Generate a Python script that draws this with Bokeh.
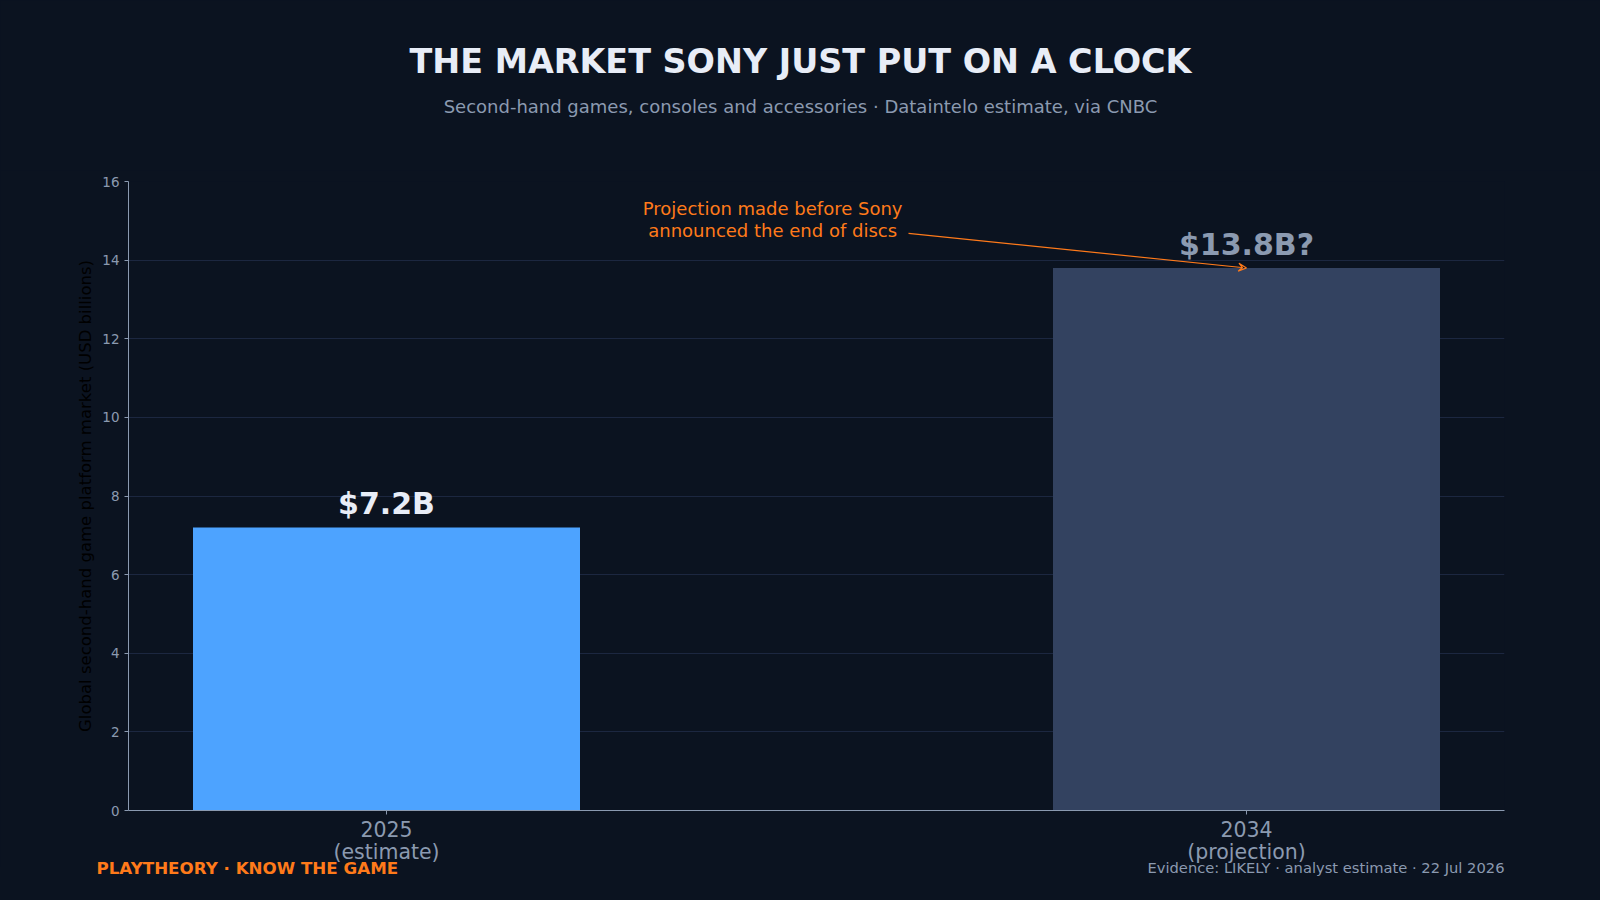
from bokeh.plotting import figure
from bokeh.layouts import column
from bokeh.models import (Range1d, FixedTicker, Label, Arrow, VeeHead, ColumnDataSource)
from bokeh.core.properties import value
from bokeh.embed import file_html
from bokeh.resources import INLINE

# ---- data ----
categories = ["2025\n(estimate)", "2034\n(projection)"]
values = [7.2, 13.8]
value_labels = ["$7.2B", "$13.8B?"]
bar_colors = ["#4da3ff", "#334260"]
label_colors = ["#e8edf7", "#8b9ab0"]
y_ticks = [0, 2, 4, 6, 8, 10, 12, 14, 16]

TITLE = "THE MARKET SONY JUST PUT ON A CLOCK"
SUBTITLE = "Second-hand games, consoles and accessories · Dataintelo estimate, via CNBC"
BRAND = "PLAYTHEORY · KNOW THE GAME"
EVIDENCE = "Evidence: LIKELY · analyst estimate · 22 Jul 2026"
ANNOTATION = "Projection made before Sony\nannounced the end of discs"
Y_LABEL = "Global second-hand game platform market (USD billions)"

BG = "#0b1320"
MUTED = "#8b9ab0"
ORANGE = "#ff7a1a"
FONT = "DejaVu Sans"

W, TOTAL_H = 1600, 900
HEADER_H = 170
FRAME_TOP, FRAME_BOTTOM = 181, 810
AXIS_PANEL = 57
MAIN_BOTTOM = FRAME_BOTTOM + AXIS_PANEL
MAIN_H = MAIN_BOTTOM - HEADER_H
OVERLAP = 12
FOOTER_TOP = MAIN_BOTTOM - OVERLAP
FOOTER_H = TOTAL_H - FOOTER_TOP


def blank_fig(h, y0, y1, transparent=False):
    f = figure(width=W, height=h, output_backend="svg", toolbar_location=None,
               x_range=Range1d(0, W), y_range=Range1d(y0, y1),
               min_border=0, x_axis_type=None, y_axis_type=None)
    f.background_fill_color = BG
    f.border_fill_color = BG
    if transparent:
        f.background_fill_alpha = 0
        f.border_fill_alpha = 0
    f.outline_line_color = None
    f.xgrid.visible = False
    f.ygrid.visible = False
    f.frame_align = False
    return f


# ---- header ----
header = blank_fig(HEADER_H, HEADER_H, 0)
header.add_layout(Label(x=800, y=61, text=TITLE, text_align="center", text_baseline="middle",
                        text_color="#e8edf7", text_font=FONT, text_font_size="33.4px",
                        text_font_style="bold"))
header.add_layout(Label(x=800, y=106, text=SUBTITLE, text_align="center", text_baseline="middle",
                        text_color=MUTED, text_font=FONT, text_font_size="18px"))

# ---- main chart ----
xs = list(range(len(categories)))
src = ColumnDataSource(dict(x=xs, top=values, color=bar_colors,
                            lab=value_labels, lcol=label_colors))

p = figure(width=W, height=MAIN_H, output_backend="svg", toolbar_location=None,
           x_range=Range1d(-0.3, 1.3), y_range=Range1d(0, 16),
           min_border_left=128, min_border_right=96,
           min_border_top=FRAME_TOP - HEADER_H, min_border_bottom=AXIS_PANEL)
p.frame_align = False
p.background_fill_color = BG
p.border_fill_color = BG
p.outline_line_color = None

p.vbar(x="x", top="top", width=0.45, color="color", line_color=None, source=src)
p.text(x="x", y="top", text="lab", text_color="lcol", source=src,
       text_align="center", text_baseline="bottom", y_offset=-6,
       text_font=value(FONT), text_font_style="bold", text_font_size="30px")

p.xaxis.ticker = FixedTicker(ticks=xs)
p.xaxis.major_label_overrides = {i: c for i, c in zip(xs, categories)}
p.xaxis.major_label_text_font_size = "20.5px"
p.xaxis.major_label_text_line_height = 0.95
p.xaxis.major_label_text_color = MUTED
p.xaxis.major_label_text_font = FONT
p.xaxis.major_label_standoff = 3
p.xaxis.axis_line_color = MUTED
p.xaxis.major_tick_line_color = MUTED
p.xaxis.major_tick_in = 0
p.xaxis.major_tick_out = 4
p.xaxis.minor_tick_line_color = None

p.yaxis.ticker = FixedTicker(ticks=y_ticks)
p.yaxis.major_label_text_font_size = "13.5px"
p.yaxis.major_label_text_color = MUTED
p.yaxis.major_label_text_font = FONT
p.yaxis.axis_line_color = MUTED
p.yaxis.major_tick_line_color = MUTED
p.yaxis.major_tick_in = 0
p.yaxis.major_tick_out = 4
p.yaxis.minor_tick_line_color = None
p.yaxis.axis_label = Y_LABEL
p.yaxis.axis_label_text_color = "#000000"
p.yaxis.axis_label_text_font = FONT
p.yaxis.axis_label_text_font_style = "normal"
p.yaxis.axis_label_text_font_size = "16.5px"
p.yaxis.axis_label_standoff = 4

p.xgrid.grid_line_color = None
p.ygrid.grid_line_color = "#1c2740"
p.ygrid.grid_line_width = 1

p.add_layout(Arrow(end=VeeHead(size=8, line_color=ORANGE, line_width=1.2, fill_color=None),
                   x_start=0.607, y_start=14.68, x_end=1.0, y_end=13.8,
                   line_color=ORANGE, line_width=1.2))
p.add_layout(Label(x=0.449, y=14.68, text=ANNOTATION,
                   text_align="center", text_baseline="middle", y_offset=14,
                   text_color=ORANGE, text_font=FONT, text_font_size="18px",
                   text_line_height=1.05))

# ---- footer (transparent, slightly overlapping the axis panel) ----
footer = blank_fig(FOOTER_H, TOTAL_H, FOOTER_TOP, transparent=True)
footer.margin = (-OVERLAP, 0, 0, 0)
footer.add_layout(Label(x=96, y=867, text=BRAND, text_align="left", text_baseline="middle",
                        text_color=ORANGE, text_font=FONT, text_font_size="16.7px",
                        text_font_style="bold"))
footer.add_layout(Label(x=1504, y=867, text=EVIDENCE, text_align="right", text_baseline="middle",
                        text_color=MUTED, text_font=FONT, text_font_size="14.7px"))

layout = column(header, p, footer, spacing=0)
layout.styles = {"background-color": BG}

html = file_html(layout, INLINE)
html = html.replace("<body>", '<body style="margin:0;background-color:%s;">' % BG, 1)
open("out.html", "w").write(html)
